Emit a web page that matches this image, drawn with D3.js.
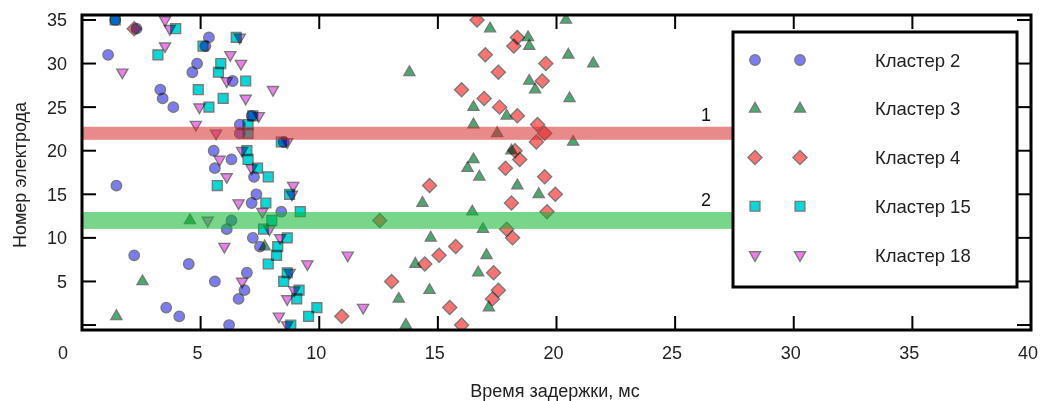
<!DOCTYPE html>
<html><head><meta charset="utf-8">
<script src="https://cdn.jsdelivr.net/npm/d3@7"></script>
<style>
html,body{margin:0;padding:0;background:#fff;}
svg{display:block;font-family:"Liberation Sans",Arial,Helvetica,sans-serif;}
</style></head>
<body><svg id="chart" width="1042" height="401"></svg>
<script>
// ---- data ----
const electrodes = d3.range(0, 36); // electrode numbers 0..35
const clusterNames = ["Кластер 2", "Кластер 3", "Кластер 4", "Кластер 15", "Кластер 18"];
// delay (ms) per electrode 0..35
const cluster2 = [6.2,4.1,3.55,6.6,6.85,5.6,6.95,4.5,2.2,7.5,7.2,6.1,6.3,8.4,7.15,7.35,1.45,7.25,5.6,6.3,5.55,8.5,6.65,6.65,7.15,3.85,3.4,3.3,6.35,4.65,4.85,1.1,5.2,5.35,2.3,1.4];
const cluster3 = [13.65,1.45,17.15,13.35,14.65,2.55,16.7,14.05,17.05,7.7,14.7,16.9,4.55,16.45,14.35,19.25,18.35,16.75,16.25,16.5,18.1,20.7,17.5,16.5,17.9,16.5,20.55,19.1,18.85,13.8,21.55,20.5,18.85,18.8,17.2,20.4];
const cluster4 = [16.0,10.95,15.5,17.3,17.55,13.05,17.35,14.45,15.05,15.75,18.15,17.9,12.55,19.6,18.1,19.95,14.65,19.5,17.85,18.45,18.25,19.15,19.5,19.2,18.35,17.6,16.95,16.0,19.4,17.55,19.55,17.0,18.2,18.35,2.2,16.65];
const cluster15 = [8.8,9.55,9.9,9.05,9.15,8.5,8.65,7.85,8.2,8.25,8.65,7.65,8.0,9.2,7.75,8.75,5.7,7.85,7.4,7.0,6.95,8.4,7.0,7.0,7.2,5.35,5.95,4.9,6.9,5.75,5.85,3.2,5.1,6.5,3.95,1.4];
const cluster18 = [8.65,8.3,11.85,8.65,8.95,6.75,8.75,9.5,11.2,6.0,8.35,7.9,5.3,7.6,6.6,8.85,8.9,6.1,7.15,5.8,6.75,8.65,5.65,4.8,7.45,4.95,6.9,8.05,6.1,1.7,6.7,6.25,3.5,6.65,3.7,3.5];
const bandLabels = ["1", "2"];
const bandCenters = [22, 12];
const bandHalf = [0.75, 0.97];
const xTicks = [0,5,10,15,20,25,30,35,40];
const yTicks = [0,5,10,15,20,25,30,35];
const xTitle = "Время задержки, мс";
const yTitle = "Номер электрода";

// ---- layout ----
const svg = d3.select("#chart");
const L = 82, R = 1031, T = 15, B = 330;
const x = d3.scaleLinear().domain([0, 40]).range([L, R]);
const y = d3.scaleLinear().domain([-0.57, 35.57]).range([B, T]);

const fills = ["#7b7bf3", "#42ad6c", "#ff7272", "#00d9d9", "#f07cf0"];
const shapes = ["circle", "up", "diamond", "square", "down"];
function markerPath(shape) {
  switch (shape) {
    case "circle": return d3.symbol(d3.symbolCircle, Math.PI * 5.2 * 5.2)();
    case "up": { const s = 11, h = s * Math.sqrt(3) / 2; return `M0,${-2*h/3}L${s/2},${h/3}L${-s/2},${h/3}Z`; }
    case "down": { const s = 11, h = s * Math.sqrt(3) / 2; return `M0,${2*h/3}L${s/2},${-h/3}L${-s/2},${-h/3}Z`; }
    case "diamond": { const d = 7; return `M0,${-d}L${d},0L0,${d}L${-d},0Z`; }
    case "square": { const d = 4.9; return `M${-d},${-d}H${d}V${d}H${-d}Z`; }
  }
}

svg.append("defs").append("clipPath").attr("id", "plotclip")
  .append("rect").attr("x", L).attr("y", T).attr("width", R - L).attr("height", B - T);

const plot = svg.append("g").attr("clip-path", "url(#plotclip)");

const series = [cluster2, cluster3, cluster4, cluster15, cluster18];
series.forEach((vals, i) => {
  plot.append("g").selectAll("path").data(electrodes).join("path")
    .attr("d", markerPath(shapes[i]))
    .attr("transform", e => `translate(${x(vals[e])},${y(e)})`)
    .attr("fill", fills[i]).attr("stroke", "#7a7a7a").attr("stroke-width", 1.4)
    .style("mix-blend-mode", "multiply");
});

// legend box position
const LX0 = 733, LX1 = 1017, LY0 = 32, LY1 = 287;

// bands (translucent, over the markers)
const bandColors = ["#d5282a", "#0ab42a"];
bandCenters.forEach((c, i) => {
  plot.append("rect")
    .attr("x", L).attr("width", LX0 + 2 - L)
    .attr("y", y(c + bandHalf[i])).attr("height", y(c - bandHalf[i]) - y(c + bandHalf[i]))
    .attr("fill", bandColors[i]).attr("fill-opacity", 0.55);
  svg.append("text").attr("x", 706).attr("y", y(c + bandHalf[i]) - 6)
    .attr("text-anchor", "middle").attr("font-size", 18).attr("fill", "#111").text(bandLabels[i]);
});

// ticks (inward, all four sides)
const tickLen = 14;
const tg = svg.append("g").attr("stroke", "#000").attr("stroke-width", 2);
xTicks.forEach(t => {
  tg.append("line").attr("x1", x(t)).attr("x2", x(t)).attr("y1", B).attr("y2", B - tickLen);
  tg.append("line").attr("x1", x(t)).attr("x2", x(t)).attr("y1", T).attr("y2", T + tickLen);
});
yTicks.forEach(t => {
  tg.append("line").attr("x1", L).attr("x2", L + tickLen).attr("y1", y(t)).attr("y2", y(t));
  tg.append("line").attr("x1", R).attr("x2", R - tickLen).attr("y1", y(t)).attr("y2", y(t));
});

// frame
svg.append("rect").attr("x", L).attr("y", T).attr("width", R - L).attr("height", B - T)
  .attr("fill", "none").attr("stroke", "#000").attr("stroke-width", 3);

// tick labels
svg.append("g").selectAll("text").data(xTicks).join("text")
  .attr("x", d => d === 0 ? x(d) - 19 : x(d) - 3).attr("y", 359)
  .attr("text-anchor", "middle").attr("font-size", 18).attr("fill", "#222")
  .text(d => d);
svg.append("g").selectAll("text").data(yTicks.filter(d => d > 0)).join("text")
  .attr("x", 67).attr("y", d => y(d)).attr("dy", "0.36em")
  .attr("text-anchor", "end").attr("font-size", 18).attr("fill", "#222")
  .text(d => d);

// axis titles
svg.append("text").attr("x", 555).attr("y", 397).attr("text-anchor", "middle")
  .attr("font-size", 18).attr("fill", "#222").text(xTitle);
svg.append("text").attr("transform", "translate(26,175) rotate(-90)")
  .attr("text-anchor", "middle").attr("font-size", 18).attr("fill", "#222").text(yTitle);

// legend
const lg = svg.append("g");
lg.append("rect").attr("x", LX0).attr("y", LY0).attr("width", LX1 - LX0).attr("height", LY1 - LY0)
  .attr("fill", "#fff").attr("stroke", "#000").attr("stroke-width", 3);
const rowY = d3.scalePoint().domain(clusterNames).range([60, 255]);
clusterNames.forEach((n, i) => {
  [755, 800].forEach(mx => {
    lg.append("path").attr("d", markerPath(shapes[i]))
      .attr("transform", `translate(${mx},${rowY(n)})`)
      .attr("fill", fills[i]).attr("stroke", "#7a7a7a").attr("stroke-width", 1.4);
  });
  lg.append("text").attr("x", 875).attr("y", rowY(n) + 6.5)
    .attr("font-size", 18.5).attr("fill", "#222").text(n);
});
</script></body></html>
